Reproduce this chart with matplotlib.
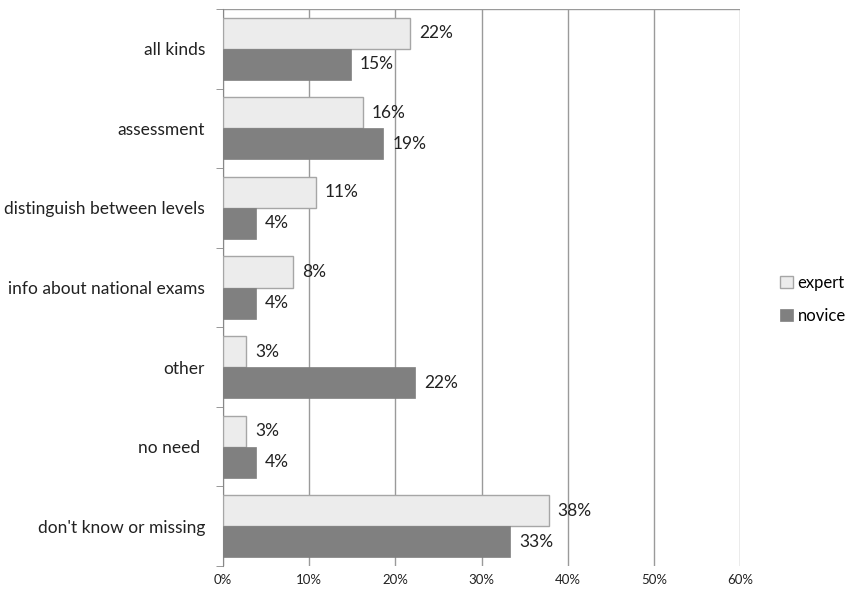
import numpy as np
import matplotlib.pyplot as plt
from matplotlib.ticker import FuncFormatter, FixedLocator

categories = ["all kinds", "assessment", "distinguish between levels",
              "info about national exams", "other", "no need ",
              "don't know or missing"]
expert = [21.7, 16.2, 10.8, 8.1, 2.7, 2.7, 37.8]
novice = [14.8, 18.6, 3.8, 3.8, 22.3, 3.8, 33.3]

plt.rcParams['font.family'] = ['Lato', 'DejaVu Sans']

fig = plt.figure(figsize=(8.47, 5.95), dpi=100)
ax = fig.add_axes([0.2633, 0.0487, 0.6104, 0.9362])

y = np.arange(len(categories))
h = 0.39
b1 = ax.barh(y - h / 2, expert, height=h, color='#ececec', edgecolor='#a6a6a6',
             linewidth=1.0, label='expert', zorder=3)
b2 = ax.barh(y + h / 2, novice, height=h, color='#808080', edgecolor='#808080',
             linewidth=0.5, label='novice', zorder=3)

for bars, vals in ((b1, expert), (b2, novice)):
    for bar, v in zip(bars, vals):
        ax.annotate(f"{v:.0f}%", (v, bar.get_y() + bar.get_height() / 2),
                    xytext=(6.5, 0), textcoords='offset points',
                    va='center', ha='left', fontsize=12.5, color='#222222')

ax.set_xlim(0, 60)
ax.set_ylim(len(categories) - 0.5, -0.5)
ax.set_xticks(np.arange(0, 61, 10))
ax.xaxis.set_major_formatter(FuncFormatter(lambda x, p: f"{x:.0f}%"))
ax.tick_params(axis='x', length=0, labelsize=9.5, pad=6, colors='#222222')

ax.set_yticks(y)
ax.set_yticklabels(categories, fontsize=12.5, color='#222222')
ax.yaxis.set_minor_locator(FixedLocator(np.arange(-0.5, len(categories), 1)))
ax.tick_params(axis='y', which='major', length=0, pad=13)
ax.tick_params(axis='y', which='minor', length=5, color='#888888')

ax.grid(axis='x', color='#9a9a9a', linewidth=1.0, zorder=0)
for s in ('top', 'right', 'bottom'):
    ax.spines[s].set_visible(False)
ax.spines['left'].set_color('#888888')
ax.axhline(-0.5, color='#9a9a9a', linewidth=1.0, zorder=1)

fig.legend(handles=[b1, b2], labels=['expert', 'novice'], loc='center left',
           bbox_to_anchor=(0.921, 0.497), frameon=False, fontsize=12,
           handlelength=0.75, handleheight=0.75, handletextpad=0.3,
           labelspacing=1.0, borderpad=0, borderaxespad=0)

fig.savefig('out.png', dpi=100)
